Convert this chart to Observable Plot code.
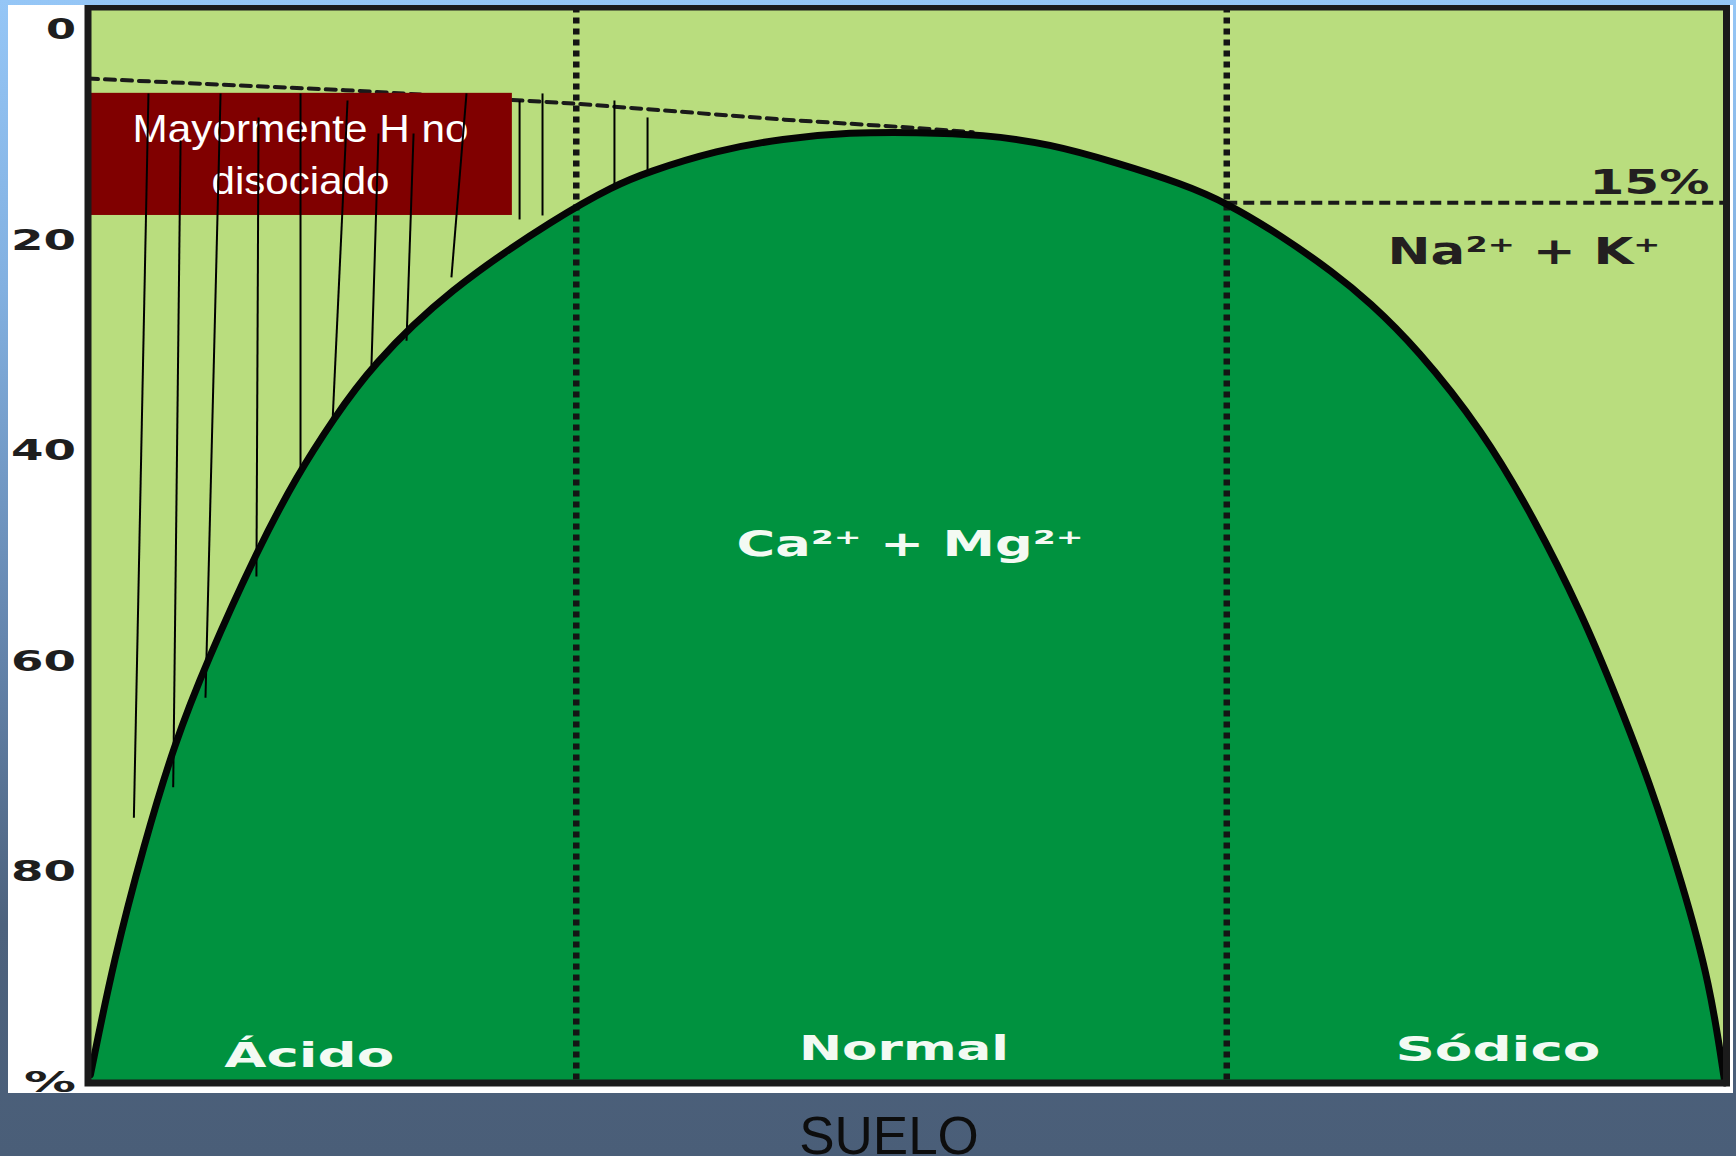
<!DOCTYPE html>
<html>
<head>
<meta charset="utf-8">
<script src="https://cdn.jsdelivr.net/npm/d3@7"></script>
<script src="https://cdn.jsdelivr.net/npm/@observablehq/plot@0.6"></script>
<style>
  html, body { margin: 0; padding: 0; }
  body {
    width: 1736px; height: 1156px; overflow: hidden; position: relative;
    background: linear-gradient(180deg, #95c6f6 0%, #82b0e0 25%, #6586ae 55%, #4d627d 80%, #4a5e78 100%);
    font-family: "Liberation Sans", Arial, sans-serif;
  }
  #panel { position: absolute; left: 8px; top: 5px; width: 1725px; height: 1088px; background: #fff; overflow: hidden; }
  #caption {
    position: absolute; left: 689px; width: 400px; top: 1109px; text-align: center;
    font-family: "Liberation Sans", Arial, sans-serif; font-size: 53px; line-height: 53px; color: #0d0d0d;
  }
</style>
</head>
<body>
<div id="panel"></div>
<div id="caption">SUELO</div>
<script>
// ---- data (x: 0-100 across the frame, y: % from top) ----
const curveX = [0.15, 1.57, 3.41, 5.24, 7.27, 10.33, 12.79, 15.0, 17.24, 21.94, 28.8, 32.1, 34.1, 38.4, 42.4, 46.5, 50.6, 54.6, 58.7, 62.8, 66.8, 69.5, 72.9, 76.0, 78.2, 81.1, 85.1, 88.2, 91.2, 93.3, 95.3, 97.3, 99.0, 99.9];
const curveY = [99.2, 88.3, 77.4, 67.9, 59.9, 49.4, 42.2, 36.9, 32.0, 24.7, 17.6, 14.8, 13.5, 11.4, 10.3, 9.7, 9.7, 9.9, 10.8, 12.6, 14.6, 16.4, 19.6, 23.0, 25.8, 30.2, 38.0, 46.2, 55.5, 63.4, 71.4, 81.0, 90.6, 100];

const hatchTopX    = [3.69, 5.65, 8.09, 10.41, 12.97, 15.84, 17.73, 19.87, 23.1, 26.34, 27.74, 32.13, 34.15];
const hatchTopY    = [6.01, 10.48, 6.01, 8.29, 6.01, 6.68, 9.81, 9.81, 6.01, 6.68, 6.01, 6.68, 8.29];
const hatchBottomX = [2.80, 5.20, 7.17, 10.28, 12.97, 14.92, 17.30, 19.44, 22.18, 26.34, 27.74, 32.13, 34.15];
const hatchBottomY = [74.8, 71.9, 63.4, 51.9, 42.1, 37.35, 31.84, 29.5, 23.48, 17.98, 17.6, 14.75, 13.51];

const upperDashX = [0, 15.7, 29.9, 42.5, 50.7, 54.0];
const upperDashY = [4.6, 5.7, 7.0, 8.5, 9.3, 9.7];

const zoneBounds = [29.8, 69.5];
const sodiumLimitY = 16.4;          // the "15%" dashed line
const yTicks = [0, 20, 40, 60, 80, 100];

const zoneNames = ["Ácido", "Normal", "Sódico"];
const zoneX = [13.5, 49.8, 86.05];
const zoneY = [97.4, 96.75, 96.85];

const ionNames = ["Ca²⁺ + Mg²⁺", "Na²⁺ + K⁺", "15%"];
const ionX = [50.17, 87.64, 98.96];
const ionY = [48.84, 21.06, 14.51];

const boxX = [0, 25.9];
const boxY = [6.0, 17.6];
const boxLines = ["Mayormente H no", "disociado"];
const boxLineX = [12.97, 12.97];
const boxLineY = [9.43, 14.37];

// ---- tables built from the arrays ----
const curve = curveX.map((x, i) => ({x, y: curveY[i], base: 100}));
const hatches = hatchTopX.map((x, i) => ({x1: x, y1: hatchTopY[i], x2: hatchBottomX[i], y2: hatchBottomY[i]}));
const upperDash = upperDashX.map((x, i) => ({x, y: upperDashY[i]}));
const zones = zoneNames.map((t, i) => ({t, x: zoneX[i], y: zoneY[i]}));
const ions = ionNames.map((t, i) => ({t, x: ionX[i], y: ionY[i]}));
const box = [{x1: boxX[0], x2: boxX[1], y1: boxY[0], y2: boxY[1]}];
const boxText = boxLines.map((t, i) => ({t, x: boxLineX[i], y: boxLineY[i]}));
const sodium = [{y: sodiumLimitY, x1: zoneBounds[1], x2: 100}];

const bold = "DejaVu Sans, Verdana, sans-serif";

const chart = Plot.plot({
  width: 1725, height: 1088,
  marginLeft: 79.5, marginRight: 7, marginTop: 1.5, marginBottom: 10.5,
  x: {domain: [0, 100], axis: null},
  y: {domain: [-2.2, 100], reverse: true, axis: null},
  style: {background: "white", overflow: "hidden"},
  marks: [
    Plot.frame({fill: "#b9dd7e"}),
    Plot.areaY(curve, {x: "x", y1: "base", y2: "y", fill: "#00923f", curve: "basis"}),
    Plot.line(upperDash, {x: "x", y: "y", stroke: "#1a1a1a", strokeWidth: 4, strokeDasharray: "10,7"}),
    Plot.rect(box, {x1: "x1", x2: "x2", y1: "y1", y2: "y2", fill: "#800000"}),
    Plot.text(boxText, {x: "x", y: "y", text: "t", fill: "#ffffff", fontSize: 39.5,
      fontFamily: "Liberation Sans, Arial, sans-serif", textAnchor: "middle", lineAnchor: "middle"}),
    Plot.link(hatches, {x1: "x1", y1: "y1", x2: "x2", y2: "y2", stroke: "#000", strokeWidth: 2}),
    Plot.ruleX(zoneBounds, {stroke: "#141414", strokeWidth: 6.5, strokeDasharray: "6,5"}),
    Plot.ruleY(sodium, {y: "y", x1: "x1", x2: "x2", stroke: "#1a1a1a", strokeWidth: 4, strokeDasharray: "11,6"}),
    Plot.line(curve, {x: "x", y: "y", stroke: "#050505", strokeWidth: 7, curve: "basis"}),
    Plot.text(zones, {x: "x", y: "y", text: "t", fill: "#f3faf3", fontSize: 34, fontWeight: "bold",
      fontFamily: bold, textAnchor: "middle", lineAnchor: "middle"}),
    Plot.text(ions.slice(0, 1), {x: "x", y: "y", text: "t", fill: "#f3faf3", fontSize: 35, fontWeight: "bold",
      fontFamily: bold, textAnchor: "middle", lineAnchor: "middle"}),
    Plot.text(ions.slice(1, 2), {x: "x", y: "y", text: "t", fill: "#231f20", fontSize: 37, fontWeight: "bold",
      fontFamily: bold, textAnchor: "middle", lineAnchor: "middle"}),
    Plot.text(ions.slice(2), {x: "x", y: "y", text: "t", fill: "#231f20", fontSize: 34, fontWeight: "bold",
      fontFamily: bold, textAnchor: "end", lineAnchor: "middle"}),
    Plot.axisY(yTicks, {tickSize: 0, tickPadding: 12, tickFormat: d => d === 100 ? "%" : String(d),
      fontSize: 27.5, fontWeight: "bold", fontFamily: bold, color: "#1e1e1e", label: null}),
    Plot.frame({stroke: "#1b1b1b", strokeWidth: 7})
  ]
});

document.getElementById("panel").appendChild(chart);

// the source picture is stretched horizontally: match each label's width
const targetWidth = new Map([
  ["Ácido", 170], ["Normal", 210], ["Sódico", 205],
  ["Ca²⁺ + Mg²⁺", 347], ["Na²⁺ + K⁺", 273], ["15%", 120],
  ["Mayormente H no", 336], ["disociado", 178],
  ["0", 30], ["20", 65], ["40", 65], ["60", 65], ["80", 65], ["%", 52]
]);
chart.querySelectorAll("text").forEach(t => {
  const w = targetWidth.get(t.textContent.trim());
  if (w) { t.setAttribute("textLength", w); t.setAttribute("lengthAdjust", "spacingAndGlyphs"); }
});
</script>
</body>
</html>
